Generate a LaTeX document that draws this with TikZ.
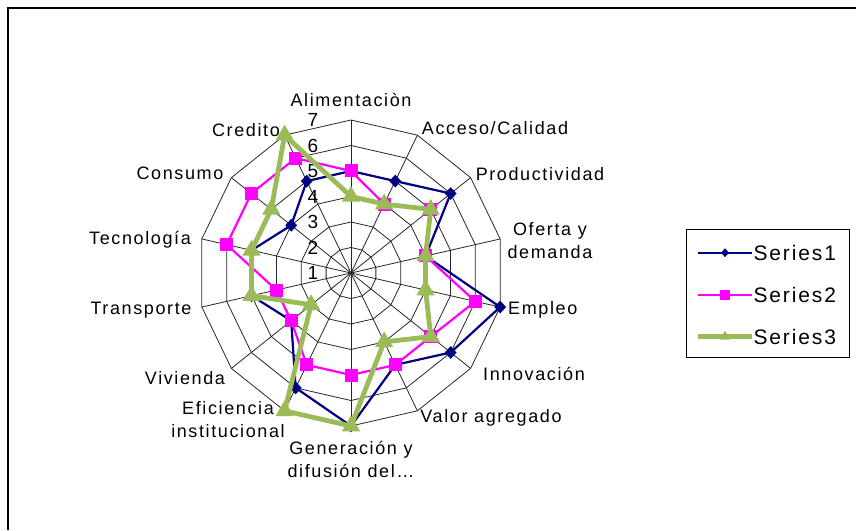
\documentclass[tikz,border=0pt]{standalone}
\usepackage{fontspec}
\setmainfont{Liberation Sans}[LetterSpace=9]
\usetikzlibrary{shapes.geometric}
\definecolor{sonenavy}{HTML}{000080}
\definecolor{stwopink}{HTML}{FF00FF}
\definecolor{sthreegreen}{HTML}{9BBB59}

\begin{document}
\begin{tikzpicture}[x=1pt,y=1pt]
        \tikzset{web/.style={draw=black!85,line width=0.8pt},
                 lbl/.style={font=\fontsize{18}{23}\selectfont,inner sep=0pt,align=center},
                 tick/.style={font=\fontsize{19}{19}\selectfont,inner sep=0pt},
                 keytext/.style={font=\fontsize{21}{21}\selectfont,inner sep=0pt,anchor=west},
                 s1line/.style={draw=sonenavy,line width=2.2pt,line join=round},
                 s2line/.style={draw=stwopink,line width=2.2pt,line join=round},
                 s3line/.style={draw=sthreegreen,line width=4.8pt,line join=round},
                 s1mark/.style={diamond,fill=sonenavy,inner sep=0pt,minimum width=12pt,minimum height=13pt},
                 s2mark/.style={rectangle,fill=stwopink,inner sep=0pt,minimum size=13pt},
                 s3mark/.style={regular polygon,regular polygon sides=3,fill=sthreegreen,inner sep=0pt,minimum size=21pt}}
        \useasboundingbox (-351,-257) rectangle (505,273);
        % frame (only top and left edge show)
        \coordinate (fa) at (-343,-257);
        \coordinate (fb) at (-343,265);
        \coordinate (fc) at (505,265);
        \draw[line width=1.5pt] (fa) -- (fb) -- (fc);
        % web
        \coordinate (O) at (0,0);
        \foreach \n in {1,...,6}
            \draw[web] (90:{\n*25.5}) \foreach \k in {1,...,13}{-- ({90-\k*360/14}:{\n*25.5})} -- cycle;
        \foreach \k in {0,...,13} {
            \coordinate (e\k) at ({90-\k*360/14}:153);
            \draw[web] (O) -- (e\k);
        }
        \foreach \n in {1,...,7}
            \node[tick] (t\n) at (-38,{(\n-1)*25.5}) {\n};
        % categories
        \node[lbl] (alim) at (0,173) {Alimentaciòn};
        \node[lbl] (acce) at (144,145) {Acceso/Calidad};
        \node[lbl] (prod) at (189,99) {Productividad};
        \node[lbl] (ofer) at (199,32) {Oferta y\\demanda};
        \node[lbl,anchor=west] (empl) at (157,-37) {Empleo};
        \node[lbl] (inno) at (183,-101) {Innovación};
        \node[lbl] (valo) at (140,-145) {Valor agregado};
        \node[lbl] (gene) at (0,-186) {Generación y\\difusión del…};
        \node[lbl] (efic) at (-123,-147) {Eficiencia\\institucional};
        \node[lbl] (vivi) at (-166,-105) {Vivienda};
        \node[lbl] (tran) at (-210,-37) {Transporte};
        \node[lbl] (tecn) at (-211,33) {Tecnología};
        \node[lbl] (cons) at (-171,100) {Consumo};
        \node[lbl] (cred) at (-105,143) {Credito};
        % Series1
        \foreach \v [count=\k from 0] in {5,5,6,4,7,6,5,7,6,4,5,5,4,5}
            \coordinate (a\k) at ({90-\k*360/14}:{(\v-1)*25.5});
        \draw[s1line] (a0) \foreach \k in {1,...,13}{-- (a\k)} -- cycle;
        \foreach \k in {0,...,13} \node[s1mark] (ma\k) at (a\k) {};
        % Series2
        \foreach \v [count=\k from 0] in {5,4,5,4,6,5,5,5,5,4,4,6,6,6}
            \coordinate (b\k) at ({90-\k*360/14}:{(\v-1)*25.5});
        \draw[s2line] (b0) \foreach \k in {1,...,13}{-- (b\k)} -- cycle;
        \foreach \k in {0,...,13} \node[s2mark] (mb\k) at (b\k) {};
        % Series3
        \foreach \v [count=\k from 0] in {4,4,5,4,4,5,4,7,7,3,5,5,5,7}
            \coordinate (c\k) at ({90-\k*360/14}:{(\v-1)*25.5});
        \draw[s3line] (c0) \foreach \k in {1,...,13}{-- (c\k)} -- cycle;
        \foreach \k in {0,...,13} \node[s3mark] (mc\k) at (c\k) {};
        % legend
        \node[draw=black,line width=1pt,minimum width=162.6pt,minimum height=127.3pt,inner sep=0pt] (key) at (417,-20.65) {};
        \coordinate (k1a) at (347,20.3);   \coordinate (k1b) at (400.7,20.3);
        \coordinate (k2a) at (347,-22);    \coordinate (k2b) at (400.7,-22);
        \coordinate (k3a) at (347,-63.7);  \coordinate (k3b) at (400.7,-63.7);
        \draw[s1line] (k1a) -- (k1b);
        \draw[s2line] (k2a) -- (k2b);
        \draw[s3line] (k3a) -- (k3b);
        \node[s1mark,minimum width=8pt,minimum height=9pt] (km1) at (374,20.3) {};
        \node[s2mark,minimum size=10pt] (km2) at (374,-22) {};
        \node[s3mark,minimum size=12pt] (km3) at (374,-63.7) {};
        \node[keytext] (kt1) at (402.3,20.3) {Series1};
        \node[keytext] (kt2) at (402.3,-22) {Series2};
        \node[keytext] (kt3) at (402.3,-63.7) {Series3};
    \end{tikzpicture}
\end{document}
